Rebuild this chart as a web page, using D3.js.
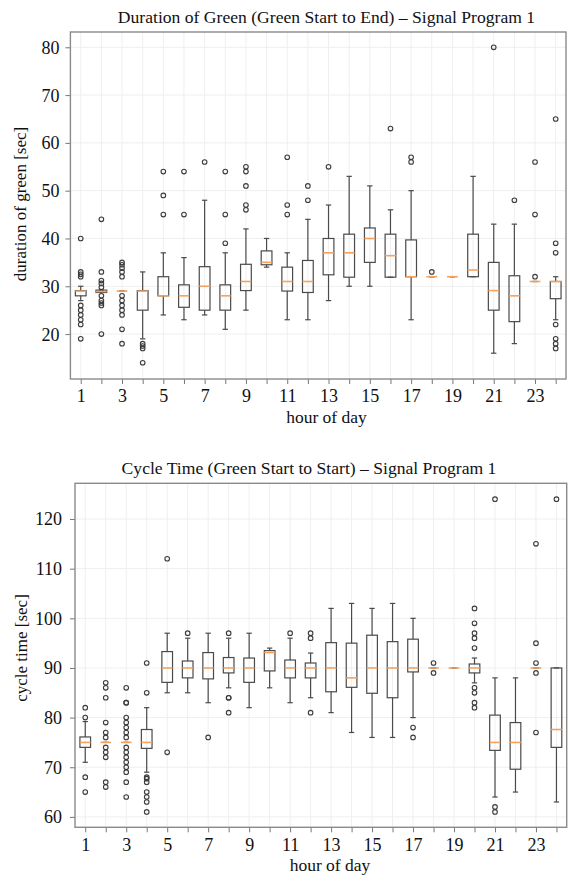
<!DOCTYPE html>
<html>
<head>
<meta charset="utf-8">
<script src="https://cdn.jsdelivr.net/npm/d3@7"></script>
<style>
  html, body { margin: 0; padding: 0; background: #fff; }
  svg { display: block; }
  text { font-family: "Liberation Serif", "DejaVu Serif", serif; fill: #111; }
</style>
</head>
<body>
<svg id="chart" width="569" height="878"></svg>
<script>
// Hours of the day shown on both panels
const hours = d3.range(1, 25);
const hourTickLabels = [1, 3, 5, 7, 9, 11, 13, 15, 17, 19, 21, 23];

// Duration of green per hour [sec]: box statistics and outliers
const greenQ1   = [28, 28.7, 29, 25, 28, 25.6, 25, 25, 29.1, 34.5, 29, 28.7, 32.4, 31.9, 35, 31.9, 32, 32, 32, 32, 25, 22.6, 31, 27.4];
const greenMed  = [29, 28.9, 29, 29, 28, 28, 30, 28, 31, 35, 31, 31, 37, 37, 40, 36.4, 32, 32, 32, 33.4, 29.1, 28, 31, 31];
const greenQ3   = [29.1, 29.2, 29, 29.1, 32, 30.3, 34.1, 30.3, 34.6, 37.4, 34, 35.4, 40, 40.9, 42.2, 40.9, 39.7, 32, 32, 40.9, 35, 32.2, 31, 31];
const greenLow  = [27, 28.7, 29, 19, 24, 23, 24, 21, 25, 34, 23, 23, 27, 30, 30, 31.9, 23, 32, 32, 32, 16, 18, 31, 23];
const greenHigh = [30, 29.2, 29, 33, 37, 36, 48, 37, 42, 40, 37, 44, 47, 53, 51, 46, 50, 32, 32, 53, 43, 43, 31, 32];
const greenOutliers = [
  [40, 33, 32.5, 32, 26, 25, 24, 23, 22, 19],
  [44, 33, 31.2, 30.6, 29.8, 28, 27, 26.5, 26, 20],
  [35, 34.5, 33.8, 33, 32, 28, 27, 26, 25, 24, 21, 18],
  [18, 17.5, 17, 14],
  [54, 49, 45],
  [54, 45],
  [56],
  [54, 45, 39],
  [55, 54, 51, 47, 46],
  [],
  [57, 47, 45],
  [51, 48],
  [55],
  [],
  [],
  [63],
  [57, 56],
  [33],
  [],
  [],
  [80],
  [48],
  [56, 45, 32],
  [65, 39, 37, 22, 19, 18, 17]
];
const greenTicks = [20, 30, 40, 50, 60, 70, 80];

// Cycle time per hour [sec]: box statistics and outliers
const cycleQ1   = [74, 75, 75, 73.8, 87.1, 88, 87.8, 89, 87.1, 89.4, 88, 88, 85.2, 86.1, 84.9, 84, 89.2, 90, 90, 89, 73.4, 69.6, 90, 74];
const cycleMed  = [75, 75, 75, 75, 90, 90, 90, 90, 90, 93.1, 90, 90, 90, 88, 90, 90, 90, 90, 90, 90, 75, 75, 90, 77.6];
const cycleQ3   = [76.1, 75, 75, 77.6, 93.3, 91.4, 93.1, 92.1, 92, 93.5, 91.6, 91, 95.1, 95, 96.6, 95.3, 95.8, 90, 90, 90.8, 80.5, 79, 90, 90];
const cycleLow  = [71, 75, 75, 69, 85, 85, 83, 86, 82, 86, 83, 84, 81, 77, 76, 76, 80, 90, 90, 87, 64, 65, 90, 63];
const cycleHigh = [79.2, 75, 75, 82, 97, 96, 97, 96, 97, 94, 96, 93, 102, 103, 102, 103, 100, 90, 90, 92, 88, 88, 90, 90];
const cycleOutliers = [
  [82, 80, 68, 65],
  [87, 86, 84, 79, 77, 76, 74, 73, 72, 67, 66],
  [86, 83, 83, 80, 79, 78, 77, 76, 74, 73, 72, 71, 70, 69, 67, 64],
  [91, 85, 68, 67.7, 67, 65, 64, 63, 61],
  [112, 73],
  [97],
  [76],
  [97, 84, 84, 81],
  [],
  [],
  [97],
  [97, 96, 81],
  [],
  [],
  [],
  [],
  [78, 76],
  [91, 89],
  [],
  [102, 99, 97, 96, 94, 86, 85, 83, 82],
  [124, 62, 61],
  [],
  [115, 95, 91, 89, 77],
  [124]
];
const cycleTicks = [60, 70, 80, 90, 100, 110, 120];

const svg = d3.select("#chart");

const FRAME = "#8a8a8a";
const BOXLINE = "#4a4a4a";
const MEDIAN = "#f4a25e";
const GRID = "#efefef";
const SERIF = "Liberation Serif, DejaVu Serif, serif";

function drawPanel(cfg) {
  const x = d3.scaleLinear().domain([0.5, 24.5]).range([cfg.left, cfg.right]);
  const y = d3.scaleLinear().domain(cfg.yDomain).range([cfg.bottom, cfg.top]);
  const g = svg.append("g");

  // grid
  g.append("g").selectAll("line").data(hours).join("line")
    .attr("x1", d => x(d)).attr("x2", d => x(d))
    .attr("y1", cfg.top).attr("y2", cfg.bottom)
    .attr("stroke", GRID).attr("stroke-width", 1);
  g.append("g").selectAll("line").data(cfg.yTicks).join("line")
    .attr("x1", cfg.left).attr("x2", cfg.right)
    .attr("y1", d => y(d)).attr("y2", d => y(d))
    .attr("stroke", GRID).attr("stroke-width", 1);

  // x axis: a tick for every hour, labels on odd hours
  const xAxis = d3.axisBottom(x).tickValues(hours).tickSize(5).tickPadding(6)
    .tickFormat(d => hourTickLabels.includes(d) ? d : "");
  const gx = g.append("g").attr("transform", `translate(0,${cfg.bottom})`).call(xAxis);
  gx.select(".domain").remove();
  gx.selectAll(".tick line").attr("stroke", "#777").attr("stroke-width", 1);
  gx.selectAll(".tick text").attr("font-size", 18).attr("fill", "#111")
    .attr("font-family", SERIF).attr("y", cfg.xTickBaseline).attr("dy", 0);

  // y axis
  const yAxis = d3.axisLeft(y).tickValues(cfg.yTicks).tickSize(5).tickPadding(cfg.yPad);
  const gy = g.append("g").attr("transform", `translate(${cfg.left},0)`).call(yAxis);
  gy.select(".domain").remove();
  gy.selectAll(".tick line").attr("stroke", "#777").attr("stroke-width", 1);
  gy.selectAll(".tick text").attr("font-size", 18).attr("fill", "#111")
    .attr("font-family", SERIF).attr("dy", "0.33em");

  // boxes
  const stats = hours.map((h, i) => ({
    h, q1: cfg.q1[i], med: cfg.med[i], q3: cfg.q3[i],
    lo: cfg.low[i], hi: cfg.high[i], out: cfg.outliers[i]
  }));
  const bw = x(0.5 + 0.52) - x(0.5);
  const cw = bw / 2;
  const boxes = g.append("g").selectAll("g").data(stats).join("g");

  boxes.append("line")
    .attr("x1", d => x(d.h)).attr("x2", d => x(d.h))
    .attr("y1", d => y(d.q3)).attr("y2", d => y(d.hi))
    .attr("stroke", BOXLINE).attr("stroke-width", 1.2);
  boxes.append("line")
    .attr("x1", d => x(d.h)).attr("x2", d => x(d.h))
    .attr("y1", d => y(d.q1)).attr("y2", d => y(d.lo))
    .attr("stroke", BOXLINE).attr("stroke-width", 1.2);
  boxes.append("line")
    .attr("x1", d => x(d.h) - cw / 2).attr("x2", d => x(d.h) + cw / 2)
    .attr("y1", d => y(d.hi)).attr("y2", d => y(d.hi))
    .attr("stroke", BOXLINE).attr("stroke-width", 1.2);
  boxes.append("line")
    .attr("x1", d => x(d.h) - cw / 2).attr("x2", d => x(d.h) + cw / 2)
    .attr("y1", d => y(d.lo)).attr("y2", d => y(d.lo))
    .attr("stroke", BOXLINE).attr("stroke-width", 1.2);
  boxes.append("rect")
    .attr("x", d => x(d.h) - bw / 2).attr("width", bw)
    .attr("y", d => y(d.q3)).attr("height", d => Math.max(0, y(d.q1) - y(d.q3)))
    .attr("fill", "none").attr("stroke", BOXLINE).attr("stroke-width", 1.2);
  boxes.append("line")
    .attr("x1", d => x(d.h) - bw / 2).attr("x2", d => x(d.h) + bw / 2)
    .attr("y1", d => y(d.med)).attr("y2", d => y(d.med))
    .attr("stroke", MEDIAN).attr("stroke-width", 1.6);

  boxes.selectAll("circle").data(d => d.out.map(v => ({ h: d.h, v }))).join("circle")
    .attr("cx", d => x(d.h)).attr("cy", d => y(d.v)).attr("r", 2.3)
    .attr("fill", "none").attr("stroke", "#3c3c3c").attr("stroke-width", 1.1);

  // frame
  g.append("rect")
    .attr("x", cfg.left).attr("y", cfg.top)
    .attr("width", cfg.right - cfg.left).attr("height", cfg.bottom - cfg.top)
    .attr("fill", "none").attr("stroke", FRAME).attr("stroke-width", 1.4);

  // titles
  g.append("text").attr("x", cfg.titleX).attr("y", cfg.titleY)
    .attr("text-anchor", "middle").attr("font-size", 17.6).text(cfg.title);
  g.append("text").attr("x", cfg.xLabelX).attr("y", cfg.xLabelY)
    .attr("text-anchor", "middle").attr("font-size", 17.5).text("hour of day");
  g.append("text")
    .attr("transform", `translate(${cfg.yLabelX},${cfg.yLabelY}) rotate(-90)`)
    .attr("text-anchor", "middle").attr("font-size", 17).text(cfg.yLabel);
}

drawPanel({
  left: 70.4, right: 566, top: 32, bottom: 379,
  yDomain: [10.6, 83.2], yTicks: greenTicks, yPad: 6, xTickBaseline: 23,
  q1: greenQ1, med: greenMed, q3: greenQ3, low: greenLow, high: greenHigh, outliers: greenOutliers,
  title: "Duration of Green (Green Start to End) \u2013 Signal Program 1",
  titleX: 326.5, titleY: 22.5,
  xLabelX: 326.5, xLabelY: 423,
  yLabel: "duration of green [sec]", yLabelX: 26, yLabelY: 204
});

drawPanel({
  left: 75, right: 566.7, top: 483.3, bottom: 827.3,
  yDomain: [57.9, 127.2], yTicks: cycleTicks, yPad: 8, xTickBaseline: 23.5,
  q1: cycleQ1, med: cycleMed, q3: cycleQ3, low: cycleLow, high: cycleHigh, outliers: cycleOutliers,
  title: "Cycle Time (Green Start to Start) \u2013 Signal Program 1",
  titleX: 309, titleY: 474,
  xLabelX: 330, xLabelY: 871,
  yLabel: "cycle time [sec]", yLabelX: 27, yLabelY: 648
});
</script>
</body>
</html>
